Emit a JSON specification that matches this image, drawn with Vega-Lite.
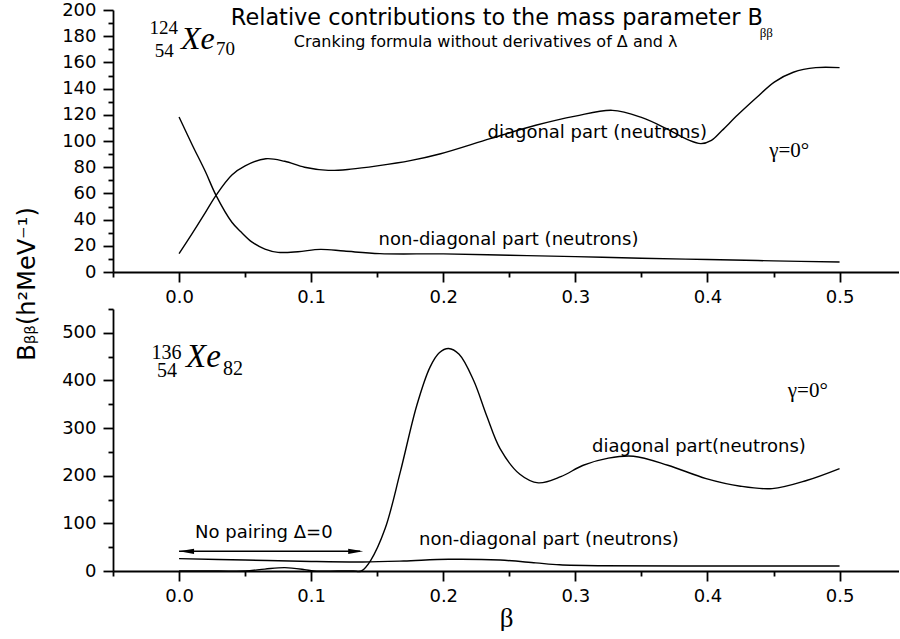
{
  "$schema": "https://vega.github.io/schema/vega-lite/v6.json",
  "padding": {"left": 15, "top": 1, "right": 0, "bottom": 0},
  "spacing": 37,
  "bounds": "flush",
  "config": {
    "view": {"stroke": null},
    "axis": {"domainColor": "black", "domainWidth": 1.8, "tickColor": "black", "tickWidth": 1.8, "labelColor": "black", "labelFont": "DejaVu Sans", "labelFontSize": 18, "titleColor": "black", "grid": false, "labelOverlap": false, "labelFlush": false}
  },
  "datasets": {
    "xe124": [
      {"b": 0, "v": 14, "part": "diagonal"}, {"b": 0.01, "v": 29.5, "part": "diagonal"}, {"b": 0.02, "v": 45.5, "part": "diagonal"}, {"b": 0.028, "v": 58.5, "part": "diagonal"}, {"b": 0.04, "v": 74, "part": "diagonal"}, {"b": 0.05, "v": 81, "part": "diagonal"}, {"b": 0.0657, "v": 86.5, "part": "diagonal"}, {"b": 0.08, "v": 84.5, "part": "diagonal"}, {"b": 0.095, "v": 80, "part": "diagonal"}, {"b": 0.113, "v": 77.6, "part": "diagonal"}, {"b": 0.13, "v": 78.5, "part": "diagonal"}, {"b": 0.15, "v": 81, "part": "diagonal"}, {"b": 0.175, "v": 85, "part": "diagonal"}, {"b": 0.198, "v": 90.3, "part": "diagonal"}, {"b": 0.2355, "v": 101.8, "part": "diagonal"}, {"b": 0.27, "v": 112, "part": "diagonal"}, {"b": 0.3, "v": 119, "part": "diagonal"}, {"b": 0.328, "v": 123.4, "part": "diagonal"}, {"b": 0.35, "v": 118, "part": "diagonal"}, {"b": 0.369, "v": 109.4, "part": "diagonal"}, {"b": 0.385, "v": 101, "part": "diagonal"}, {"b": 0.395, "v": 98, "part": "diagonal"}, {"b": 0.403, "v": 100.5, "part": "diagonal"}, {"b": 0.411, "v": 108, "part": "diagonal"}, {"b": 0.423, "v": 120, "part": "diagonal"}, {"b": 0.437, "v": 133, "part": "diagonal"}, {"b": 0.4506, "v": 145, "part": "diagonal"}, {"b": 0.465, "v": 152.5, "part": "diagonal"}, {"b": 0.482, "v": 156, "part": "diagonal"}, {"b": 0.5, "v": 156, "part": "diagonal"},
      {"b": 0, "v": 118.3, "part": "nondiagonal"}, {"b": 0.01, "v": 97, "part": "nondiagonal"}, {"b": 0.02, "v": 76.5, "part": "nondiagonal"}, {"b": 0.028, "v": 58.5, "part": "nondiagonal"}, {"b": 0.04, "v": 38, "part": "nondiagonal"}, {"b": 0.047, "v": 30.5, "part": "nondiagonal"}, {"b": 0.055, "v": 23, "part": "nondiagonal"}, {"b": 0.065, "v": 17.5, "part": "nondiagonal"}, {"b": 0.075, "v": 15, "part": "nondiagonal"}, {"b": 0.09, "v": 15.5, "part": "nondiagonal"}, {"b": 0.107, "v": 17.3, "part": "nondiagonal"}, {"b": 0.125, "v": 16, "part": "nondiagonal"}, {"b": 0.152, "v": 14, "part": "nondiagonal"}, {"b": 0.2, "v": 13.8, "part": "nondiagonal"}, {"b": 0.25, "v": 12.8, "part": "nondiagonal"}, {"b": 0.3, "v": 11.7, "part": "nondiagonal"}, {"b": 0.35, "v": 10.5, "part": "nondiagonal"}, {"b": 0.4, "v": 9.5, "part": "nondiagonal"}, {"b": 0.45, "v": 8.5, "part": "nondiagonal"}, {"b": 0.5, "v": 7.6, "part": "nondiagonal"}
    ],
    "xe136": [
      {"b": 0, "v": 0, "part": "diagonal"}, {"b": 0.03, "v": 0, "part": "diagonal"}, {"b": 0.05, "v": 0, "part": "diagonal"}, {"b": 0.065, "v": 4, "part": "diagonal"}, {"b": 0.08, "v": 7, "part": "diagonal"}, {"b": 0.095, "v": 3, "part": "diagonal"}, {"b": 0.102, "v": 0, "part": "diagonal"}, {"b": 0.12, "v": 0, "part": "diagonal"}, {"b": 0.132, "v": 0, "part": "diagonal"}, {"b": 0.138, "v": 0, "part": "diagonal"}, {"b": 0.145, "v": 22, "part": "diagonal"}, {"b": 0.156, "v": 89, "part": "diagonal"}, {"b": 0.1675, "v": 208, "part": "diagonal"}, {"b": 0.18, "v": 348, "part": "diagonal"}, {"b": 0.19, "v": 428, "part": "diagonal"}, {"b": 0.197, "v": 458, "part": "diagonal"}, {"b": 0.204, "v": 467, "part": "diagonal"}, {"b": 0.212, "v": 455, "part": "diagonal"}, {"b": 0.223, "v": 400, "part": "diagonal"}, {"b": 0.233, "v": 325, "part": "diagonal"}, {"b": 0.243, "v": 257, "part": "diagonal"}, {"b": 0.258, "v": 203, "part": "diagonal"}, {"b": 0.272, "v": 185, "part": "diagonal"}, {"b": 0.289, "v": 198, "part": "diagonal"}, {"b": 0.306, "v": 222, "part": "diagonal"}, {"b": 0.325, "v": 237, "part": "diagonal"}, {"b": 0.344, "v": 241, "part": "diagonal"}, {"b": 0.37, "v": 222, "part": "diagonal"}, {"b": 0.399, "v": 194, "part": "diagonal"}, {"b": 0.425, "v": 178, "part": "diagonal"}, {"b": 0.449, "v": 173, "part": "diagonal"}, {"b": 0.475, "v": 190, "part": "diagonal"}, {"b": 0.5, "v": 215, "part": "diagonal"},
      {"b": 0, "v": 26, "part": "nondiagonal"}, {"b": 0.05, "v": 23, "part": "nondiagonal"}, {"b": 0.1, "v": 20, "part": "nondiagonal"}, {"b": 0.139, "v": 19, "part": "nondiagonal"}, {"b": 0.17, "v": 21, "part": "nondiagonal"}, {"b": 0.204, "v": 24.6, "part": "nondiagonal"}, {"b": 0.243, "v": 23, "part": "nondiagonal"}, {"b": 0.27, "v": 17, "part": "nondiagonal"}, {"b": 0.288, "v": 13, "part": "nondiagonal"}, {"b": 0.32, "v": 11, "part": "nondiagonal"}, {"b": 0.4, "v": 10.5, "part": "nondiagonal"}, {"b": 0.5, "v": 10.5, "part": "nondiagonal"}
    ]
  },
  "vconcat": [
    {
      "width": 786,
      "height": 262,
      "encoding": {
        "x": {"field": "b", "type": "quantitative", "scale": {"domain": [-0.05, 0.545], "nice": false, "zero": false},
          "axis": {"values": [-0.05, 0, 0.05, 0.1, 0.15, 0.2, 0.25, 0.3, 0.35, 0.4, 0.45, 0.5], "labelExpr": "abs(datum.value*10-round(datum.value*10))<0.000001 && datum.value>-0.01 ? format(datum.value,'.1f') : ''", "tickSize": {"condition": {"test": "abs(datum.value*10-round(datum.value*10))<0.000001", "value": 10}, "value": 5}, "labelPadding": 6, "title": null}},
        "y": {"field": "v", "type": "quantitative", "scale": {"domain": [0, 200], "nice": false},
          "axis": {"values": [0, 10, 20, 30, 40, 50, 60, 70, 80, 90, 100, 110, 120, 130, 140, 150, 160, 170, 180, 190, 200], "labelExpr": "datum.value % 20 === 0 ? datum.label : ''", "tickSize": {"condition": {"test": "datum.value % 20 === 0", "value": 10}, "value": 5}, "labelPadding": 7,
            "title": "Bᵦᵦ(h²MeV⁻¹)", "titleFont": "DejaVu Sans", "titleFontSize": 24, "titleFontWeight": "normal", "titleAngle": 270, "titleX": -79, "titleY": 273.5, "titleAlign": "center", "titleBaseline": "alphabetic"}}
      },
      "layer": [
        {"data": {"name": "xe124"}, "mark": {"type": "line", "interpolate": "catmull-rom", "color": "black", "strokeWidth": 1.4}, "encoding": {"detail": {"field": "part"}}},
        {"data": {"values": [{"b": 0.0392, "v": 188.3, "t": "Relative contributions to the mass parameter B"}]}, "mark": {"type": "text", "align": "left", "baseline": "alphabetic", "font": "DejaVu Sans", "fontSize": 22.4, "color": "black"}, "encoding": {"text": {"field": "t"}}},
        {"data": {"values": [{"b": 0.4395, "v": 179.4, "t": "ββ"}]}, "mark": {"type": "text", "align": "left", "baseline": "alphabetic", "font": "Liberation Serif", "fontSize": 13, "color": "black"}, "encoding": {"text": {"field": "t"}}},
        {"data": {"values": [{"b": 0.2321, "v": 171.8, "t": "Cranking formula without derivatives of Δ and λ"}]}, "mark": {"type": "text", "align": "center", "baseline": "alphabetic", "font": "DejaVu Sans", "fontSize": 16, "color": "black"}, "encoding": {"text": {"field": "t"}}},
        {"data": {"values": [{"b": 0.3166, "v": 102.3, "t": "diagonal part (neutrons)"}, {"b": 0.2494, "v": 20.4, "t": "non-diagonal part (neutrons)"}]}, "mark": {"type": "text", "align": "center", "baseline": "alphabetic", "font": "DejaVu Sans", "fontSize": 18, "color": "black"}, "encoding": {"text": {"field": "t"}}},
        {"data": {"values": [{"b": 0.4619, "v": 87.8, "t": "γ=0°"}]}, "mark": {"type": "text", "align": "center", "baseline": "alphabetic", "font": "Liberation Serif", "fontSize": 21, "color": "black"}, "encoding": {"text": {"field": "t"}}},
        {"data": {"values": [{"b": -0.0115, "v": 181.7, "t": "124"}, {"b": -0.0112, "v": 164.1, "t": "54"}]}, "mark": {"type": "text", "align": "center", "baseline": "alphabetic", "font": "Liberation Serif", "fontSize": 19, "color": "black"}, "encoding": {"text": {"field": "t"}}},
        {"data": {"values": [{"b": 0.0279, "v": 165.6, "t": "70"}]}, "mark": {"type": "text", "align": "left", "baseline": "alphabetic", "font": "Liberation Serif", "fontSize": 19, "color": "black"}, "encoding": {"text": {"field": "t"}}},
        {"data": {"values": [{"b": 0.0015, "v": 170.2, "t": "Xe"}]}, "mark": {"type": "text", "align": "left", "baseline": "alphabetic", "font": "Liberation Serif", "fontStyle": "italic", "fontSize": 32, "color": "black"}, "encoding": {"text": {"field": "t"}}}
      ]
    },
    {
      "width": 786,
      "height": 262,
      "encoding": {
        "x": {"field": "b", "type": "quantitative", "scale": {"domain": [-0.05, 0.545], "nice": false, "zero": false},
          "axis": {"values": [-0.05, 0, 0.05, 0.1, 0.15, 0.2, 0.25, 0.3, 0.35, 0.4, 0.45, 0.5], "labelExpr": "abs(datum.value*10-round(datum.value*10))<0.000001 && datum.value>-0.01 ? format(datum.value,'.1f') : ''", "tickSize": {"condition": {"test": "abs(datum.value*10-round(datum.value*10))<0.000001", "value": 10}, "value": 5}, "labelPadding": 6,
            "title": "β", "titleFont": "Liberation Serif", "titleFontSize": 27, "titleFontWeight": "normal", "titleY": 55, "titleBaseline": "alphabetic"}},
        "y": {"field": "v", "type": "quantitative", "scale": {"domain": [0, 550], "nice": false},
          "axis": {"values": [0, 50, 100, 150, 200, 250, 300, 350, 400, 450, 500, 550], "labelExpr": "datum.value % 100 === 0 ? datum.label : ''", "tickSize": {"condition": {"test": "datum.value % 100 === 0", "value": 10}, "value": 5}, "labelPadding": 7, "title": null}}
      },
      "layer": [
        {"data": {"name": "xe136"}, "mark": {"type": "line", "interpolate": "catmull-rom", "color": "black", "strokeWidth": 1.4}, "encoding": {"detail": {"field": "part"}}},
        {"data": {"values": [{"b": 0, "b2": 0.137, "v": 41.4}]}, "mark": {"type": "rule", "color": "black", "strokeWidth": 1.4}, "encoding": {"x2": {"field": "b2"}}},
        {"data": {"values": [{"b": 0.0057, "v": 41.4, "dir": "left"}]}, "mark": {"type": "point", "shape": "M-1,0L1,-0.35L1,0.35Z", "filled": true, "color": "black", "opacity": 1, "size": 225}},
        {"data": {"values": [{"b": 0.1337, "v": 41.4, "dir": "right"}]}, "mark": {"type": "point", "shape": "M1,0L-1,-0.35L-1,0.35Z", "filled": true, "color": "black", "opacity": 1, "size": 225}},
        {"data": {"values": [{"b": 0.0642, "v": 69, "t": "No pairing Δ=0"}]}, "mark": {"type": "text", "align": "center", "baseline": "alphabetic", "font": "DejaVu Sans", "fontSize": 18, "color": "black"}, "encoding": {"text": {"field": "t"}}},
        {"data": {"values": [{"b": 0.3936, "v": 250, "t": "diagonal part(neutrons)"}, {"b": 0.28, "v": 54.6, "t": "non-diagonal part (neutrons)"}]}, "mark": {"type": "text", "align": "center", "baseline": "alphabetic", "font": "DejaVu Sans", "fontSize": 18, "color": "black"}, "encoding": {"text": {"field": "t"}}},
        {"data": {"values": [{"b": 0.476, "v": 365.5, "t": "γ=0°"}]}, "mark": {"type": "text", "align": "center", "baseline": "alphabetic", "font": "Liberation Serif", "fontSize": 21, "color": "black"}, "encoding": {"text": {"field": "t"}}},
        {"data": {"values": [{"b": -0.0095, "v": 445.4, "t": "136"}, {"b": -0.0091, "v": 407.6, "t": "54"}]}, "mark": {"type": "text", "align": "center", "baseline": "alphabetic", "font": "Liberation Serif", "fontSize": 20, "color": "black"}, "encoding": {"text": {"field": "t"}}},
        {"data": {"values": [{"b": 0.0332, "v": 411.8, "t": "82"}]}, "mark": {"type": "text", "align": "left", "baseline": "alphabetic", "font": "Liberation Serif", "fontSize": 20, "color": "black"}, "encoding": {"text": {"field": "t"}}},
        {"data": {"values": [{"b": 0.0053, "v": 428.6, "t": "Xe"}]}, "mark": {"type": "text", "align": "left", "baseline": "alphabetic", "font": "Liberation Serif", "fontStyle": "italic", "fontSize": 33, "color": "black"}, "encoding": {"text": {"field": "t"}}}
      ]
    }
  ]
}
